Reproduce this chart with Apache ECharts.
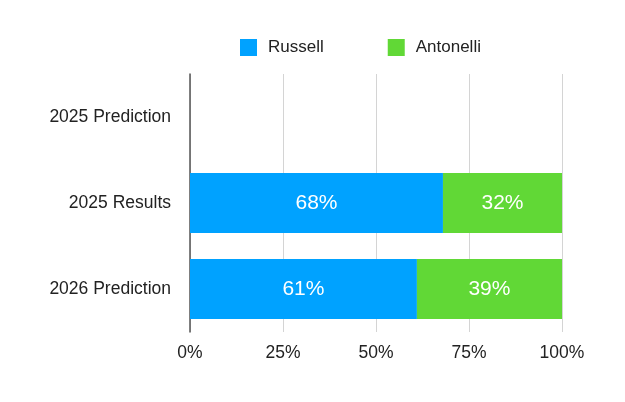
<!DOCTYPE html>
<html>
<head>
<meta charset="utf-8">
<script src="https://cdn.jsdelivr.net/npm/echarts@6/dist/echarts.min.js"></script>
<style>
  html, body { margin: 0; padding: 0; background: #fff; }
  #chart { width: 625px; height: 402px; }
</style>
</head>
<body>
<div id="chart"></div>
<script>
var categories = ['2025 Prediction', '2025 Results', '2026 Prediction'];
var russell = [null, 68, 61];
var antonelli = [null, 32, 39];
var xTicks = [0, 25, 50, 75, 100];

var font = 'Helvetica Neue, Helvetica, Liberation Sans, Arial, sans-serif';

var chart = echarts.init(document.getElementById('chart'));

function barLabel() {
  return {
    show: true,
    color: '#fff',
    fontSize: 21,
    fontFamily: font,
    formatter: function (p) { return p.value == null ? '' : p.value + '%'; }
  };
}

var option = {
  animation: false,
  legend: {
    top: 34,
    left: 235,
    itemWidth: 17,
    itemHeight: 17,
    itemGap: 64,
    icon: 'rect',
    textStyle: { fontSize: 17, fontFamily: font, color: '#222', padding: [0, 0, 0, 6] },
    data: ['Russell', 'Antonelli']
  },
  grid: { left: 190, right: 63, top: 74, bottom: 70, containLabel: false },
  xAxis: {
    type: 'value',
    min: xTicks[0],
    max: xTicks[xTicks.length - 1],
    interval: 25,
    axisLine: { show: false },
    axisTick: { show: false },
    axisLabel: {
      fontSize: 17.5, fontFamily: font, color: '#222', margin: 12,
      formatter: function (v) { return v + '%'; }
    },
    splitLine: { show: true, lineStyle: { color: '#d4d4d4', width: 1 } }
  },
  yAxis: {
    type: 'category',
    inverse: true,
    data: categories,
    axisLine: { show: true, lineStyle: { color: '#555', width: 1.5 } },
    axisTick: { show: false },
    axisLabel: { fontSize: 17.5, fontFamily: font, color: '#222', margin: 19, padding: [6, 0, 0, 0] }
  },
  series: [
    {
      name: 'Russell',
      type: 'bar',
      stack: 'total',
      barWidth: 60,
      itemStyle: { color: '#00A2FF' },
      label: barLabel(),
      data: russell
    },
    {
      name: 'Antonelli',
      type: 'bar',
      stack: 'total',
      barWidth: 60,
      itemStyle: { color: '#61D836' },
      label: barLabel(),
      data: antonelli
    }
  ]
};

chart.setOption(option);
</script>
</body>
</html>
